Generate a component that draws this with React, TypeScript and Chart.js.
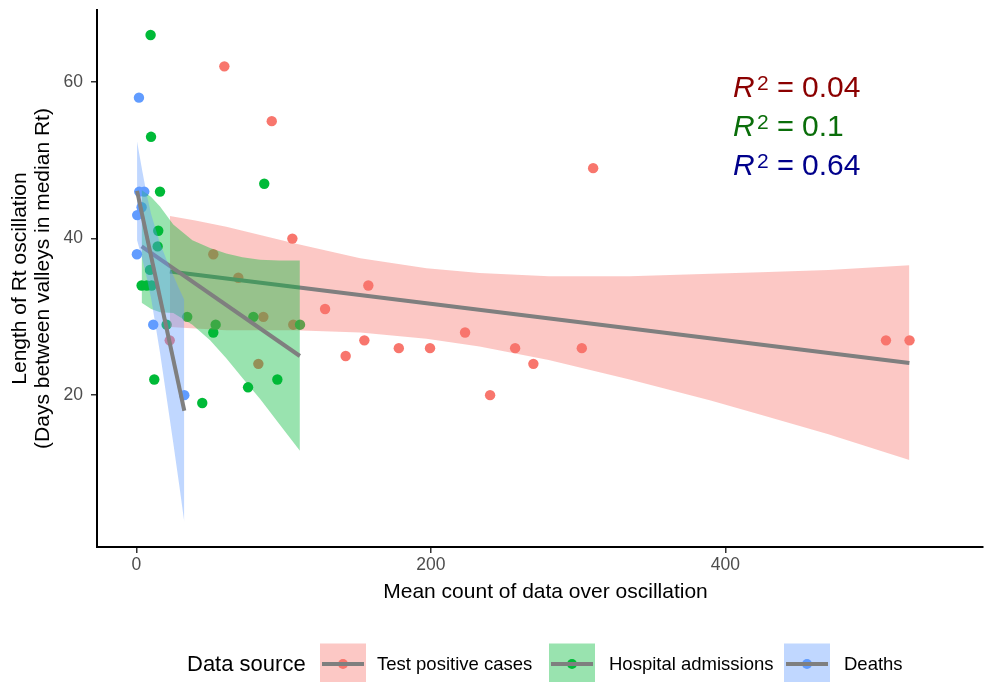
import React, { useEffect, useRef } from 'react';
import { Chart, registerables } from 'chart.js';

Chart.register(...registerables);

const FONT = '"Liberation Sans", Arial, sans-serif';

// Scatter data: Test positive cases
const casesX = [59.7, 91.9, 310.2, 105.9, 52.2, 69.2, 157.5, 128.1, 86.2, 106.5, 223.2, 154.8, 142.1, 178.2, 199.4, 257.2, 302.5, 269.6, 240.2, 509.1, 525.1, 82.8, 22.6];
const casesY = [62, 55, 49, 40, 38, 35, 34, 31, 30, 29, 28, 27, 25, 26, 26, 26, 26, 24, 20, 27, 27, 24, 27];

// Hospital admissions
const hospX = [9.6, 9.9, 86.8, 16.0, 14.8, 14.4, 9.2, 3.5, 7.0, 10.3, 34.5, 53.8, 52.2, 79.4, 111.1, 95.7, 75.8, 44.7, 12.1, 20.5];
const hospY = [66, 53, 47, 46, 41, 39, 36, 34, 34, 34, 30, 29, 28, 30, 29, 22, 21, 19, 22, 29];

// Deaths
const deathsX = [1.7, 1.9, 5.3, 3.5, 0.5, 0.3, 11.4, 32.5];
const deathsY = [58, 46, 46, 44, 43, 38, 29, 20];

// Fitted lines
const casesFitX = [22.7, 525];
const casesFitY = [35.8, 24.1];
const hospFitX = [3.5, 111];
const hospFitY = [39.0, 25.0];
const deathsFitX = [0.4, 32.5];
const deathsFitY = [46.1, 18.0];

// Confidence bands
const casesBandX = [22.7, 40, 61, 107, 152, 197, 233, 280, 335, 390, 424, 470, 525];
const casesBandHi = [42.9, 42.3, 41.5, 39.4, 37.5, 36.2, 35.6, 35.2, 35.2, 35.5, 35.7, 36.0, 36.6];
const casesBandLo = [28.7, 28.5, 28.3, 28.3, 28.0, 27.2, 26.2, 24.5, 22.0, 19.3, 17.5, 15.0, 11.7];

const hospBandX = [3.5, 10, 16, 25, 38, 50, 61, 72, 84, 97, 111];
const hospBandHi = [46.2, 45.3, 44.1, 41.8, 39.8, 38.8, 38.1, 37.6, 37.3, 37.2, 37.2];
const hospBandLo = [31.8, 31.0, 30.6, 30.5, 29.0, 27.0, 24.7, 22.2, 19.5, 16.3, 12.9];

const deathsBandX = [0.4, 4, 7, 10, 16, 20, 25, 29, 32.5];
const deathsBandHi = [52.4, 48.6, 45.6, 43.1, 39.4, 37.5, 35.3, 33.6, 32.2];
const deathsBandLo = [39.8, 37.4, 35.0, 32.3, 25.4, 20.3, 13.9, 8.6, 3.8];

const xTicks = [0, 200, 400];
const yTicks = [20, 40, 60];

const xTitle = 'Mean count of data over oscillation';
const yTitle = ['Length of Rt oscillation', '(Days between valleys in median Rt)'];

const seriesNames = ['Test positive cases', 'Hospital admissions', 'Deaths'];
const seriesColors = ['#F8766D', '#00BA38', '#619CFF'];
const bandColors = ['rgba(248,118,109,0.4)', 'rgba(0,186,56,0.4)', 'rgba(97,156,255,0.4)'];
const LINE_COLOR = '#7F7F7F';

const r2Values = ['0.04', '0.1', '0.64'];
const r2Colors = ['#8B0000', '#0A6E0A', '#00008B'];

const pts = (xs: number[], ys: number[]) => xs.map((x, i) => ({ x, y: ys[i] }));

const annotations = {
  id: 'annotations',
  afterDraw(chart: any) {
    const ctx = chart.ctx as CanvasRenderingContext2D;
    ctx.save();
    // x-axis title
    ctx.fillStyle = '#000';
    ctx.textAlign = 'center';
    ctx.textBaseline = 'middle';
    ctx.font = `21px ${FONT}`;
    ctx.fillText(xTitle, 545.5, 592);

    // R^2 labels
    const baselines = [96.7, 136, 175];
    r2Values.forEach((v, i) => {
      const b = baselines[i];
      ctx.fillStyle = r2Colors[i];
      ctx.textBaseline = 'alphabetic';
      ctx.textAlign = 'left';
      ctx.font = `italic 30px ${FONT}`;
      ctx.fillText('R', 733, b);
      ctx.font = `21px ${FONT}`;
      ctx.fillText('2', 757, b - 7);
      ctx.font = `29px ${FONT}`;
      ctx.fillText('=', 777, b);
      ctx.font = `30px ${FONT}`;
      ctx.fillText(v, 802, b);
    });

    // Legend
    const cy = 664;
    ctx.fillStyle = '#000';
    ctx.textBaseline = 'middle';
    ctx.textAlign = 'left';
    ctx.font = `22px ${FONT}`;
    ctx.fillText('Data source', 187, cy + 1);
    const centers = [343, 572, 807];
    const labelX = [377, 609, 844];
    seriesNames.forEach((name, i) => {
      const cx = centers[i];
      ctx.fillStyle = bandColors[i];
      ctx.fillRect(cx - 23, cy - 20.5, 46, 41);
      ctx.fillStyle = seriesColors[i];
      ctx.beginPath();
      ctx.arc(cx, cy, 5, 0, Math.PI * 2);
      ctx.fill();
      ctx.strokeStyle = LINE_COLOR;
      ctx.lineWidth = 4;
      ctx.beginPath();
      ctx.moveTo(cx - 21, cy);
      ctx.lineTo(cx + 21, cy);
      ctx.stroke();
      ctx.fillStyle = '#000';
      ctx.font = `18.5px ${FONT}`;
      ctx.fillText(name, labelX[i], cy + 1);
    });
    ctx.restore();
  },
};

export default function App() {
  const ref = useRef<HTMLCanvasElement | null>(null);

  useEffect(() => {
    if (!ref.current) return;
    const bandPair = (xs: number[], hi: number[], lo: number[], color: string, order: number, name: string) => [
      {
        type: 'line',
        label: name + ' upper',
        data: pts(xs, hi),
        borderColor: 'rgba(0,0,0,0)',
        borderWidth: 0,
        pointRadius: 0,
        backgroundColor: color,
        fill: '+1',
        tension: 0,
        order,
      },
      {
        type: 'line',
        label: name + ' lower',
        data: pts(xs, lo),
        borderColor: 'rgba(0,0,0,0)',
        borderWidth: 0,
        pointRadius: 0,
        fill: false,
        tension: 0,
        order,
      },
    ];
    const fitLine = (xs: number[], ys: number[], order: number, name: string) => ({
      type: 'line',
      label: name + ' fit',
      data: pts(xs, ys),
      borderColor: LINE_COLOR,
      borderWidth: 4,
      pointRadius: 0,
      fill: false,
      tension: 0,
      order,
    });
    const scatterSet = (xs: number[], ys: number[], color: string, order: number, name: string) => ({
      type: 'scatter',
      label: name,
      data: pts(xs, ys),
      backgroundColor: color,
      borderColor: color,
      pointRadius: 5.2,
      pointBorderWidth: 0,
      order,
    });

    const datasets: any[] = [
      fitLine(deathsFitX, deathsFitY, 1, 'Deaths'),
      ...bandPair(deathsBandX, deathsBandHi, deathsBandLo, bandColors[2], 2, 'Deaths'),
      fitLine(hospFitX, hospFitY, 3, 'Hospital admissions'),
      ...bandPair(hospBandX, hospBandHi, hospBandLo, bandColors[1], 4, 'Hospital admissions'),
      fitLine(casesFitX, casesFitY, 5, 'Test positive cases'),
      ...bandPair(casesBandX, casesBandHi, casesBandLo, bandColors[0], 6, 'Test positive cases'),
      scatterSet(deathsX, deathsY, seriesColors[2], 7, 'Deaths'),
      scatterSet(hospX, hospY, seriesColors[1], 8, 'Hospital admissions'),
      scatterSet(casesX, casesY, seriesColors[0], 9, 'Test positive cases'),
    ];

    const chart = new Chart(ref.current, {
      type: 'scatter',
      data: { datasets },
      options: {
        animation: false,
        responsive: false,
        maintainAspectRatio: false,
        devicePixelRatio: 1,
        events: [],
        layout: { autoPadding: false, padding: { left: 0, right: 1, top: 10, bottom: 0 } },
        plugins: {
          legend: { display: false },
          tooltip: { enabled: false },
        },
        scales: {
          x: {
            type: 'linear',
            min: -26.8,
            max: 575,
            afterBuildTicks: (s: any) => {
              s.ticks = xTicks.map((v) => ({ value: v }));
            },
            afterFit: (s: any) => {
              s.height = 135;
              s.paddingLeft = 0;
              s.paddingRight = 0;
            },
            ticks: { color: '#4D4D4D', font: { family: FONT, size: 17.5 }, padding: 2, maxRotation: 0 },
            grid: { drawOnChartArea: false, drawTicks: true, tickLength: 6, color: '#333333', lineWidth: 1.5 },
            border: { display: true, color: '#000000', width: 2 },
            title: { display: false },
          },
          y: {
            type: 'linear',
            min: 0.6,
            max: 69.2,
            afterBuildTicks: (s: any) => {
              s.ticks = yTicks.map((v) => ({ value: v }));
            },
            afterFit: (s: any) => {
              s.width = 97;
              s.paddingTop = 0;
              s.paddingBottom = 0;
            },
            ticks: { color: '#4D4D4D', font: { family: FONT, size: 17.5 }, padding: 8 },
            grid: { drawOnChartArea: false, drawTicks: true, tickLength: 6, color: '#333333', lineWidth: 1.5 },
            border: { display: true, color: '#000000', width: 2 },
            title: {
              display: true,
              text: yTitle,
              color: '#000000',
              font: { family: FONT, size: 21, lineHeight: 1.1 },
              padding: { top: 8.45, bottom: 0 },
            },
          },
        },
      } as any,
      plugins: [annotations],
    } as any);
    return () => chart.destroy();
  }, []);

  return (
    <div style={{ position: 'absolute', left: 0, top: 0, width: 984, height: 682, background: '#fff' }}>
      <canvas ref={ref} width={984} height={682} style={{ display: 'block', width: 984, height: 682 }} />
    </div>
  );
}
